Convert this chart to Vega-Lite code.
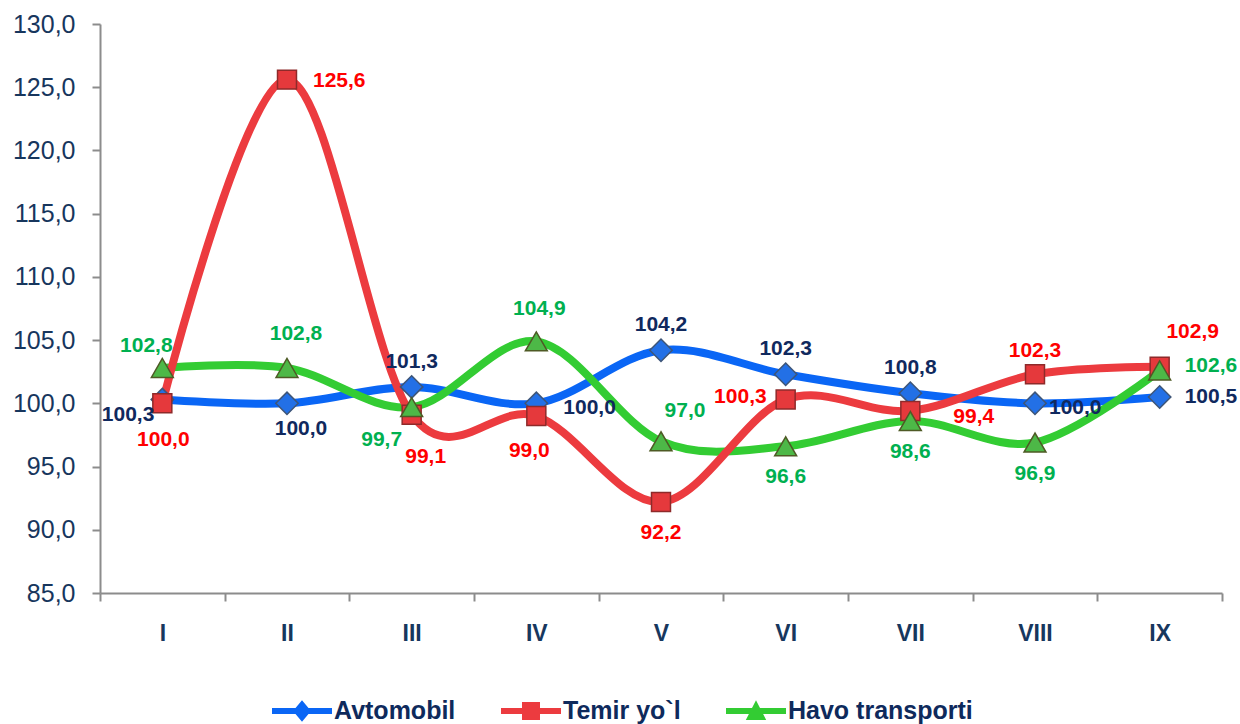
{
  "$schema": "https://vega.github.io/schema/vega-lite/v6.json",
  "width": 1122,
  "height": 569,
  "autosize": {"type": "none"},
  "padding": {"left": 100, "top": 24, "right": 18, "bottom": 131},
  "background": "white",
  "config": {"view": {"stroke": null}},
  "data": {
    "values": [
      {"month": "I", "series": "Avtomobil", "value": 100.3},
      {"month": "II", "series": "Avtomobil", "value": 100.0},
      {"month": "III", "series": "Avtomobil", "value": 101.3},
      {"month": "IV", "series": "Avtomobil", "value": 100.0},
      {"month": "V", "series": "Avtomobil", "value": 104.2},
      {"month": "VI", "series": "Avtomobil", "value": 102.3},
      {"month": "VII", "series": "Avtomobil", "value": 100.8},
      {"month": "VIII", "series": "Avtomobil", "value": 100.0},
      {"month": "IX", "series": "Avtomobil", "value": 100.5},
      {"month": "I", "series": "Temir yo`l", "value": 100.0},
      {"month": "II", "series": "Temir yo`l", "value": 125.6},
      {"month": "III", "series": "Temir yo`l", "value": 99.1},
      {"month": "IV", "series": "Temir yo`l", "value": 99.0},
      {"month": "V", "series": "Temir yo`l", "value": 92.2},
      {"month": "VI", "series": "Temir yo`l", "value": 100.3},
      {"month": "VII", "series": "Temir yo`l", "value": 99.4},
      {"month": "VIII", "series": "Temir yo`l", "value": 102.3},
      {"month": "IX", "series": "Temir yo`l", "value": 102.9},
      {"month": "I", "series": "Havo transporti", "value": 102.8},
      {"month": "II", "series": "Havo transporti", "value": 102.8},
      {"month": "III", "series": "Havo transporti", "value": 99.7},
      {"month": "IV", "series": "Havo transporti", "value": 104.9},
      {"month": "V", "series": "Havo transporti", "value": 97.0},
      {"month": "VI", "series": "Havo transporti", "value": 96.6},
      {"month": "VII", "series": "Havo transporti", "value": 98.6},
      {"month": "VIII", "series": "Havo transporti", "value": 96.9},
      {"month": "IX", "series": "Havo transporti", "value": 102.6}
    ]
  },
  "transform": [
    {"calculate": "replace(format(datum.value, '.1f'), '.', ',')", "as": "label"}
  ],
  "encoding": {
    "x": {
      "field": "month",
      "type": "nominal",
      "sort": ["I", "II", "III", "IV", "V", "VI", "VII", "VIII", "IX"],
      "bandPosition": 0.5,
      "scale": {"type": "band", "paddingInner": 0, "paddingOuter": 0},
      "title": null,
      "axis": {
        "tickBand": "extent",
        "labelAngle": 0,
        "labelFont": "Liberation Sans",
        "labelFontSize": 23,
        "labelFontWeight": "bold",
        "labelColor": "#17375E",
        "labelPadding": 21,
        "tickSize": 8,
        "tickColor": "#8C8C8C",
        "tickWidth": 2,
        "domainColor": "#8C8C8C",
        "domainWidth": 2,
        "grid": false
      }
    },
    "y": {
      "field": "value",
      "type": "quantitative",
      "scale": {"domain": [85, 130], "nice": false, "zero": false},
      "title": null,
      "axis": {
        "values": [85, 90, 95, 100, 105, 110, 115, 120, 125, 130],
        "labelExpr": "replace(format(datum.value, '.1f'), '.', ',')",
        "labelFont": "Liberation Sans",
        "labelFontSize": 25,
        "labelColor": "#17365D",
        "labelPadding": 17,
        "tickSize": 8,
        "tickColor": "#8C8C8C",
        "tickWidth": 2,
        "domainColor": "#8C8C8C",
        "domainWidth": 2,
        "grid": false
      }
    }
  },
  "layer": [
    {
      "transform": [{"filter": {"field": "series", "equal": "Avtomobil"}}],
      "mark": {"type": "line", "interpolate": "cardinal", "strokeWidth": 8, "color": "#0A66F5"}
    },
    {
      "transform": [{"filter": {"field": "series", "equal": "Havo transporti"}}],
      "mark": {"type": "line", "interpolate": "cardinal", "strokeWidth": 8, "color": "#33CC33"}
    },
    {
      "transform": [{"filter": {"field": "series", "equal": "Temir yo`l"}}],
      "mark": {"type": "line", "interpolate": "cardinal", "strokeWidth": 8, "color": "#EC3B3F"}
    },
    {
      "transform": [{"filter": {"field": "series", "equal": "Avtomobil"}}],
      "mark": {"type": "point", "shape": "diamond", "filled": true, "size": 500, "fill": "#2370E6", "stroke": "#3E5577", "strokeWidth": 1.5, "opacity": 1}
    },
    {
      "transform": [{"filter": {"field": "series", "equal": "Temir yo`l"}}],
      "mark": {"type": "point", "shape": "square", "filled": true, "size": 360, "fill": "#E5393C", "stroke": "#8E2A2A", "strokeWidth": 1.5, "opacity": 1}
    },
    {
      "transform": [{"filter": {"field": "series", "equal": "Havo transporti"}}],
      "mark": {"type": "point", "shape": "triangle-up", "filled": true, "size": 480, "fill": "#4DB847", "stroke": "#4E5A25", "strokeWidth": 1.5, "opacity": 1}
    },
    {
      "transform": [{"filter": {"and": [{"field": "series", "equal": "Avtomobil"}, {"field": "month", "oneOf": ["III", "V", "VI", "VII"]}]}}],
      "mark": {"type": "text", "font": "Liberation Sans", "fontSize": 21, "fontWeight": "bold", "color": "#10295E", "dy": -25},
      "encoding": {"text": {"field": "label"}}
    },
    {
      "transform": [{"filter": {"and": [{"field": "series", "equal": "Avtomobil"}, {"field": "month", "equal": "II"}]}}],
      "mark": {"type": "text", "font": "Liberation Sans", "fontSize": 21, "fontWeight": "bold", "color": "#10295E", "dx": 14, "dy": 26},
      "encoding": {"text": {"field": "label"}}
    },
    {
      "transform": [{"filter": {"and": [{"field": "series", "equal": "Avtomobil"}, {"field": "month", "equal": "IV"}]}}],
      "mark": {"type": "text", "font": "Liberation Sans", "fontSize": 21, "fontWeight": "bold", "color": "#10295E", "align": "left", "dx": 27, "dy": 5},
      "encoding": {"text": {"field": "label"}}
    },
    {
      "transform": [{"filter": {"and": [{"field": "series", "equal": "Avtomobil"}, {"field": "month", "equal": "VIII"}]}}],
      "mark": {"type": "text", "font": "Liberation Sans", "fontSize": 21, "fontWeight": "bold", "color": "#10295E", "align": "left", "dx": 14, "dy": 5},
      "encoding": {"text": {"field": "label"}}
    },
    {
      "transform": [{"filter": {"and": [{"field": "series", "equal": "Avtomobil"}, {"field": "month", "equal": "IX"}]}}],
      "mark": {"type": "text", "font": "Liberation Sans", "fontSize": 21, "fontWeight": "bold", "color": "#10295E", "align": "left", "dx": 25, "dy": 0},
      "encoding": {"text": {"field": "label"}}
    },
    {
      "transform": [{"filter": {"and": [{"field": "series", "equal": "Avtomobil"}, {"field": "month", "equal": "I"}]}}],
      "mark": {"type": "text", "font": "Liberation Sans", "fontSize": 21, "fontWeight": "bold", "color": "#10295E", "align": "right", "dx": -8, "dy": 15},
      "encoding": {"text": {"field": "label"}}
    },
    {
      "transform": [{"filter": {"and": [{"field": "series", "equal": "Temir yo`l"}, {"field": "month", "equal": "I"}]}}],
      "mark": {"type": "text", "font": "Liberation Sans", "fontSize": 21, "fontWeight": "bold", "color": "#FF0000", "dx": 1, "dy": 37},
      "encoding": {"text": {"field": "label"}}
    },
    {
      "transform": [{"filter": {"and": [{"field": "series", "equal": "Temir yo`l"}, {"field": "month", "equal": "V"}]}}],
      "mark": {"type": "text", "font": "Liberation Sans", "fontSize": 21, "fontWeight": "bold", "color": "#FF0000", "dy": 31},
      "encoding": {"text": {"field": "label"}}
    },
    {
      "transform": [{"filter": {"and": [{"field": "series", "equal": "Temir yo`l"}, {"field": "month", "equal": "III"}]}}],
      "mark": {"type": "text", "font": "Liberation Sans", "fontSize": 21, "fontWeight": "bold", "color": "#FF0000", "dx": 14, "dy": 42},
      "encoding": {"text": {"field": "label"}}
    },
    {
      "transform": [{"filter": {"and": [{"field": "series", "equal": "Temir yo`l"}, {"field": "month", "equal": "IV"}]}}],
      "mark": {"type": "text", "font": "Liberation Sans", "fontSize": 21, "fontWeight": "bold", "color": "#FF0000", "dx": -7, "dy": 35},
      "encoding": {"text": {"field": "label"}}
    },
    {
      "transform": [{"filter": {"and": [{"field": "series", "equal": "Temir yo`l"}, {"field": "month", "equal": "II"}]}}],
      "mark": {"type": "text", "font": "Liberation Sans", "fontSize": 21, "fontWeight": "bold", "color": "#FF0000", "align": "left", "dx": 26, "dy": 1},
      "encoding": {"text": {"field": "label"}}
    },
    {
      "transform": [{"filter": {"and": [{"field": "series", "equal": "Temir yo`l"}, {"field": "month", "equal": "VI"}]}}],
      "mark": {"type": "text", "font": "Liberation Sans", "fontSize": 21, "fontWeight": "bold", "color": "#FF0000", "align": "right", "dx": -19, "dy": -3},
      "encoding": {"text": {"field": "label"}}
    },
    {
      "transform": [{"filter": {"and": [{"field": "series", "equal": "Temir yo`l"}, {"field": "month", "equal": "VII"}]}}],
      "mark": {"type": "text", "font": "Liberation Sans", "fontSize": 21, "fontWeight": "bold", "color": "#FF0000", "align": "left", "dx": 43, "dy": 6},
      "encoding": {"text": {"field": "label"}}
    },
    {
      "transform": [{"filter": {"and": [{"field": "series", "equal": "Temir yo`l"}, {"field": "month", "equal": "VIII"}]}}],
      "mark": {"type": "text", "font": "Liberation Sans", "fontSize": 21, "fontWeight": "bold", "color": "#FF0000", "dy": -23},
      "encoding": {"text": {"field": "label"}}
    },
    {
      "transform": [{"filter": {"and": [{"field": "series", "equal": "Temir yo`l"}, {"field": "month", "equal": "IX"}]}}],
      "mark": {"type": "text", "font": "Liberation Sans", "fontSize": 21, "fontWeight": "bold", "color": "#FF0000", "dx": 33, "dy": -35},
      "encoding": {"text": {"field": "label"}}
    },
    {
      "transform": [{"filter": {"and": [{"field": "series", "equal": "Havo transporti"}, {"field": "month", "equal": "I"}]}}],
      "mark": {"type": "text", "font": "Liberation Sans", "fontSize": 21, "fontWeight": "bold", "color": "#00B050", "dx": -16, "dy": -22},
      "encoding": {"text": {"field": "label"}}
    },
    {
      "transform": [{"filter": {"and": [{"field": "series", "equal": "Havo transporti"}, {"field": "month", "equal": "II"}]}}],
      "mark": {"type": "text", "font": "Liberation Sans", "fontSize": 21, "fontWeight": "bold", "color": "#00B050", "dx": 9, "dy": -34},
      "encoding": {"text": {"field": "label"}}
    },
    {
      "transform": [{"filter": {"and": [{"field": "series", "equal": "Havo transporti"}, {"field": "month", "equal": "IV"}]}}],
      "mark": {"type": "text", "font": "Liberation Sans", "fontSize": 21, "fontWeight": "bold", "color": "#00B050", "dx": 3, "dy": -32},
      "encoding": {"text": {"field": "label"}}
    },
    {
      "transform": [{"filter": {"and": [{"field": "series", "equal": "Havo transporti"}, {"field": "month", "equal": "V"}]}}],
      "mark": {"type": "text", "font": "Liberation Sans", "fontSize": 21, "fontWeight": "bold", "color": "#00B050", "dx": 24, "dy": -30},
      "encoding": {"text": {"field": "label"}}
    },
    {
      "transform": [{"filter": {"and": [{"field": "series", "equal": "Havo transporti"}, {"field": "month", "equal": "III"}]}}],
      "mark": {"type": "text", "font": "Liberation Sans", "fontSize": 21, "fontWeight": "bold", "color": "#00B050", "dx": -30, "dy": 33},
      "encoding": {"text": {"field": "label"}}
    },
    {
      "transform": [{"filter": {"and": [{"field": "series", "equal": "Havo transporti"}, {"field": "month", "oneOf": ["VI", "VII", "VIII"]}]}}],
      "mark": {"type": "text", "font": "Liberation Sans", "fontSize": 21, "fontWeight": "bold", "color": "#00B050", "dy": 31},
      "encoding": {"text": {"field": "label"}}
    },
    {
      "transform": [{"filter": {"and": [{"field": "series", "equal": "Havo transporti"}, {"field": "month", "equal": "IX"}]}}],
      "mark": {"type": "text", "font": "Liberation Sans", "fontSize": 21, "fontWeight": "bold", "color": "#00B050", "align": "left", "dx": 25, "dy": -4},
      "encoding": {"text": {"field": "label"}}
    },
    {
      "transform": [{"filter": "datum.value > 1000"}],
      "mark": {"type": "point", "filled": true, "opacity": 1},
      "encoding": {
        "color": {
          "field": "series",
          "type": "nominal",
          "scale": {"domain": ["Avtomobil", "Temir yo`l", "Havo transporti"], "range": ["#0A66F5", "#EC3B3F", "#33CC33"]},
          "legend": {
            "title": null,
            "orient": "none",
            "legendX": 172,
            "legendY": 657,
            "direction": "horizontal",
            "symbolSize": 3600,
            "symbolStrokeWidth": 0,
            "symbolOpacity": 1,
            "labelFont": "Liberation Sans",
            "labelFontSize": 25,
            "labelFontWeight": "bold",
            "labelColor": "#0E2A5C",
            "labelOffset": 2,
            "columnPadding": 45,
            "padding": 0,
            "labelLimit": 400
          }
        },
        "shape": {
          "field": "series",
          "type": "nominal",
          "scale": {
            "domain": ["Avtomobil", "Temir yo`l", "Havo transporti"],
            "range": [
              "M-1,-0.1H1V0.1H-1Z M0,-0.36L0.3,0L0,0.36L-0.3,0Z",
              "M-1,-0.1H1V0.1H-1Z M-0.3,-0.3H0.3V0.3H-0.3Z",
              "M-1,-0.1H1V0.1H-1Z M0,-0.36L0.34,0.3H-0.34Z"
            ]
          },
          "legend": {
            "title": null,
            "orient": "none",
            "legendX": 172,
            "legendY": 657,
            "direction": "horizontal",
            "symbolSize": 3600,
            "symbolStrokeWidth": 0,
            "symbolOpacity": 1,
            "labelFont": "Liberation Sans",
            "labelFontSize": 25,
            "labelFontWeight": "bold",
            "labelColor": "#0E2A5C",
            "labelOffset": 2,
            "columnPadding": 45,
            "padding": 0,
            "labelLimit": 400
          }
        }
      }
    }
  ]
}
